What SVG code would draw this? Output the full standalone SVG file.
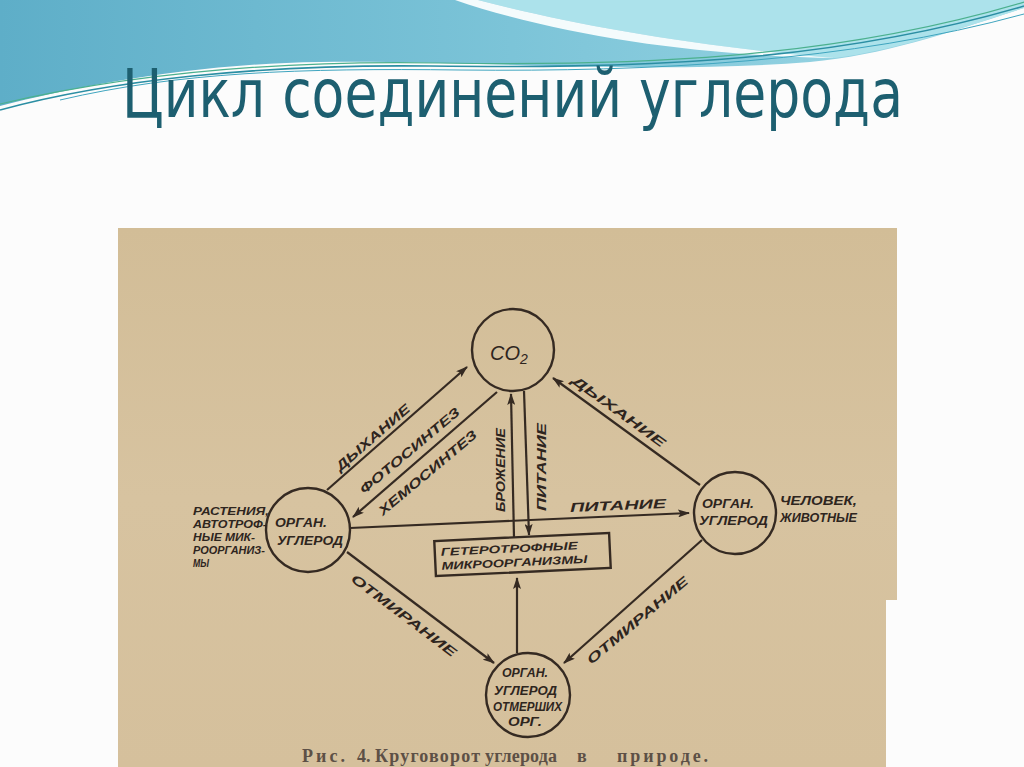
<svg xmlns="http://www.w3.org/2000/svg" width="1024" height="767" viewBox="0 0 1024 767">
  <defs>
    <linearGradient id="blueGrad" x1="0" y1="0" x2="1" y2="0">
      <stop offset="0" stop-color="#5eaec8"/>
      <stop offset="0.5" stop-color="#7cc4d8"/>
      <stop offset="1" stop-color="#9fd9e6"/>
    </linearGradient>
    <linearGradient id="paperGrad" x1="0" y1="0" x2="0" y2="1">
      <stop offset="0" stop-color="#d2bd97"/>
      <stop offset="0.5" stop-color="#d7c3a0"/>
      <stop offset="1" stop-color="#d5c09c"/>
    </linearGradient>
    <marker id="arr" viewBox="0 0 12 8" markerWidth="12" markerHeight="8" refX="11" refY="4" orient="auto" markerUnits="userSpaceOnUse">
      <path d="M0,0 L12,4 L0,8 L2.5,4 Z" fill="#352a22"/>
    </marker>
    <style>
      .ln { stroke:#352a22; stroke-width:2.2; fill:none; }
      .nd { stroke:#352a22; stroke-width:2.4; fill:none; }
      .lb { font-family:"Liberation Sans","DejaVu Sans",sans-serif; font-weight:bold; font-style:italic; fill:#2e251e; font-size:13px; }
      .sm { font-family:"Liberation Sans","DejaVu Sans",sans-serif; font-weight:bold; font-style:italic; fill:#2e251e; font-size:11px; }
      .nt { font-family:"Liberation Sans","DejaVu Sans",sans-serif; font-weight:bold; font-style:italic; fill:#2e251e; font-size:12px; }
      .cap { font-family:"Liberation Serif","DejaVu Serif",serif; font-weight:bold; font-size:18px; fill:#5d5046; }
    </style>
  </defs>

  <!-- slide background -->
  <rect x="0" y="0" width="1024" height="767" fill="#fcfcfc"/>
  <path d="M0,0 H1024 V8 C950,32 885,55 810,62 C650,75 470,60 320,62 C190,64 80,86 0,106 Z" fill="url(#blueGrad)"/>
  <path d="M478,0 H1024 V8 C955,30 895,50 835,58 C690,46 570,24 478,0 Z" fill="#ace2eb"/>
  <path d="M455,0 H478 C570,24 690,46 835,58 C700,56 560,36 455,0 Z" fill="#f4fbfc"/>
  <path d="M0,110 C110,80 260,64 430,66 C620,68 820,66 1024,6" fill="none" stroke="#2b8ea3" stroke-width="1.6"/>
  <path d="M0,104 C120,76 270,60 440,63 C630,66 830,60 1024,2" fill="none" stroke="#4bb08e" stroke-width="1.2"/>
  <path d="M60,100 C180,72 300,68 460,70 C650,72 850,62 1024,14" fill="none" stroke="#3fa5bf" stroke-width="1"/>

  <text x="122" y="117" font-family="'Liberation Sans Narrow','DejaVu Sans Condensed','Liberation Sans',sans-serif" font-size="68" fill="#1d5f70" textLength="781" lengthAdjust="spacingAndGlyphs">Цикл соединений углерода</text>

  <!-- paper -->
  <path d="M118,228 H897 V600 H886 V767 H118 Z" fill="url(#paperGrad)"/>

  <!-- connectors -->
  <g id="connectors">
    <line class="ln" x1="327" y1="490" x2="467" y2="367" marker-end="url(#arr)"/>
    <line class="ln" x1="497" y1="392" x2="353" y2="517" marker-end="url(#arr)"/>
    <line class="ln" x1="700" y1="485" x2="553" y2="378" marker-end="url(#arr)"/>
    <line class="ln" x1="514" y1="538" x2="511" y2="394" marker-end="url(#arr)"/>
    <line class="ln" x1="524" y1="391" x2="529" y2="535" marker-end="url(#arr)"/>
    <line class="ln" x1="350" y1="528" x2="689" y2="513" marker-end="url(#arr)"/>
    <line class="ln" x1="517" y1="653" x2="517" y2="578" marker-end="url(#arr)"/>
    <line class="ln" x1="347" y1="552" x2="494" y2="663" marker-end="url(#arr)"/>
    <line class="ln" x1="702" y1="540" x2="564" y2="663" marker-end="url(#arr)"/>

    <text class="lb" transform="translate(373,438) rotate(-41)" text-anchor="middle" textLength="94" lengthAdjust="spacingAndGlyphs" dy="4">ДЫХАНИЕ</text>
    <text class="lb" transform="translate(410,451) rotate(-40)" text-anchor="middle" textLength="126" lengthAdjust="spacingAndGlyphs" dy="4">ФОТОСИНТЕЗ</text>
    <text class="lb" transform="translate(428,473) rotate(-40)" text-anchor="middle" textLength="124" lengthAdjust="spacingAndGlyphs" dy="4">ХЕМОСИНТЕЗ</text>
    <text class="lb" transform="translate(501,470) rotate(-90)" text-anchor="middle" textLength="84" lengthAdjust="spacingAndGlyphs" dy="4">БРОЖЕНИЕ</text>
    <text class="lb" transform="translate(541,467) rotate(-90)" text-anchor="middle" textLength="88" lengthAdjust="spacingAndGlyphs" dy="5">ПИТАНИЕ</text>
    <text class="lb" transform="translate(618,505) rotate(-2.5)" text-anchor="middle" textLength="96" lengthAdjust="spacingAndGlyphs" dy="5">ПИТАНИЕ</text>
    <text class="lb" transform="translate(619,411) rotate(36)" text-anchor="middle" textLength="112" lengthAdjust="spacingAndGlyphs" dy="5">ДЫХАНИЕ</text>
    <text class="lb" transform="translate(404,615) rotate(37)" text-anchor="middle" textLength="128" lengthAdjust="spacingAndGlyphs" dy="5">ОТМИРАНИЕ</text>
    <text class="lb" transform="translate(637,620) rotate(-40)" text-anchor="middle" textLength="128" lengthAdjust="spacingAndGlyphs" dy="5">ОТМИРАНИЕ</text>
  </g>

  <!-- nodes -->
  <g id="node-co2">
    <circle class="nd" cx="513" cy="350" r="41"/>
    <text x="490" y="360" font-family="'Liberation Sans','DejaVu Sans',sans-serif" font-style="italic" font-size="20" fill="#2e251e">CO<tspan font-size="14" dy="4">2</tspan></text>
  </g>

  <g id="node-left">
    <circle class="nd" cx="308" cy="530" r="42"/>
    <text class="nt" x="275" y="527" textLength="52" lengthAdjust="spacingAndGlyphs">ОРГАН.</text>
    <text class="nt" x="277" y="545" textLength="66" lengthAdjust="spacingAndGlyphs">УГЛЕРОД</text>
    <text class="sm" x="193" y="515" textLength="76" lengthAdjust="spacingAndGlyphs">РАСТЕНИЯ,</text>
    <text class="sm" x="193" y="528" textLength="74" lengthAdjust="spacingAndGlyphs">АВТОТРОФ-</text>
    <text class="sm" x="193" y="541" textLength="62" lengthAdjust="spacingAndGlyphs">НЫЕ МИК-</text>
    <text class="sm" x="193" y="554" textLength="72" lengthAdjust="spacingAndGlyphs">РООРГАНИЗ-</text>
    <text class="sm" x="193" y="567" textLength="16" lengthAdjust="spacingAndGlyphs">МЫ</text>
  </g>

  <g id="node-right">
    <circle class="nd" cx="735" cy="513" r="41"/>
    <text class="nt" x="702" y="508" textLength="52" lengthAdjust="spacingAndGlyphs">ОРГАН.</text>
    <text class="nt" x="699" y="525" textLength="69" lengthAdjust="spacingAndGlyphs">УГЛЕРОД</text>
    <text class="nt" x="780" y="505" textLength="77" lengthAdjust="spacingAndGlyphs">ЧЕЛОВЕК,</text>
    <text class="nt" x="780" y="522" textLength="77" lengthAdjust="spacingAndGlyphs">ЖИВОТНЫЕ</text>
  </g>

  <g id="node-bottom">
    <circle class="nd" cx="528" cy="695" r="42"/>
    <text class="nt" x="502" y="677" textLength="46" lengthAdjust="spacingAndGlyphs">ОРГАН.</text>
    <text class="nt" x="494" y="695" textLength="63" lengthAdjust="spacingAndGlyphs">УГЛЕРОД</text>
    <text class="nt" x="493" y="711" textLength="69" lengthAdjust="spacingAndGlyphs">ОТМЕРШИХ</text>
    <text class="nt" x="508" y="726" textLength="34" lengthAdjust="spacingAndGlyphs">ОРГ.</text>
  </g>

  <g id="node-hetero" transform="rotate(-2.7 522.5 554.5)">
    <rect class="nd" x="435" y="537" width="175" height="35"/>
    <text class="sm" x="441" y="552" textLength="137" lengthAdjust="spacingAndGlyphs">ГЕТЕРОТРОФНЫЕ</text>
    <text class="sm" x="441" y="566" textLength="146" lengthAdjust="spacingAndGlyphs">МИКРООРГАНИЗМЫ</text>
  </g>

  <text class="cap" y="762"><tspan x="302" textLength="43" lengthAdjust="spacing">Рис.</tspan><tspan x="357">4.</tspan><tspan x="375" textLength="105" lengthAdjust="spacing">Круговорот</tspan><tspan x="485" textLength="72" lengthAdjust="spacing">углерода</tspan><tspan x="577">в</tspan><tspan x="617" textLength="91" lengthAdjust="spacing">природе.</tspan></text>
</svg>
